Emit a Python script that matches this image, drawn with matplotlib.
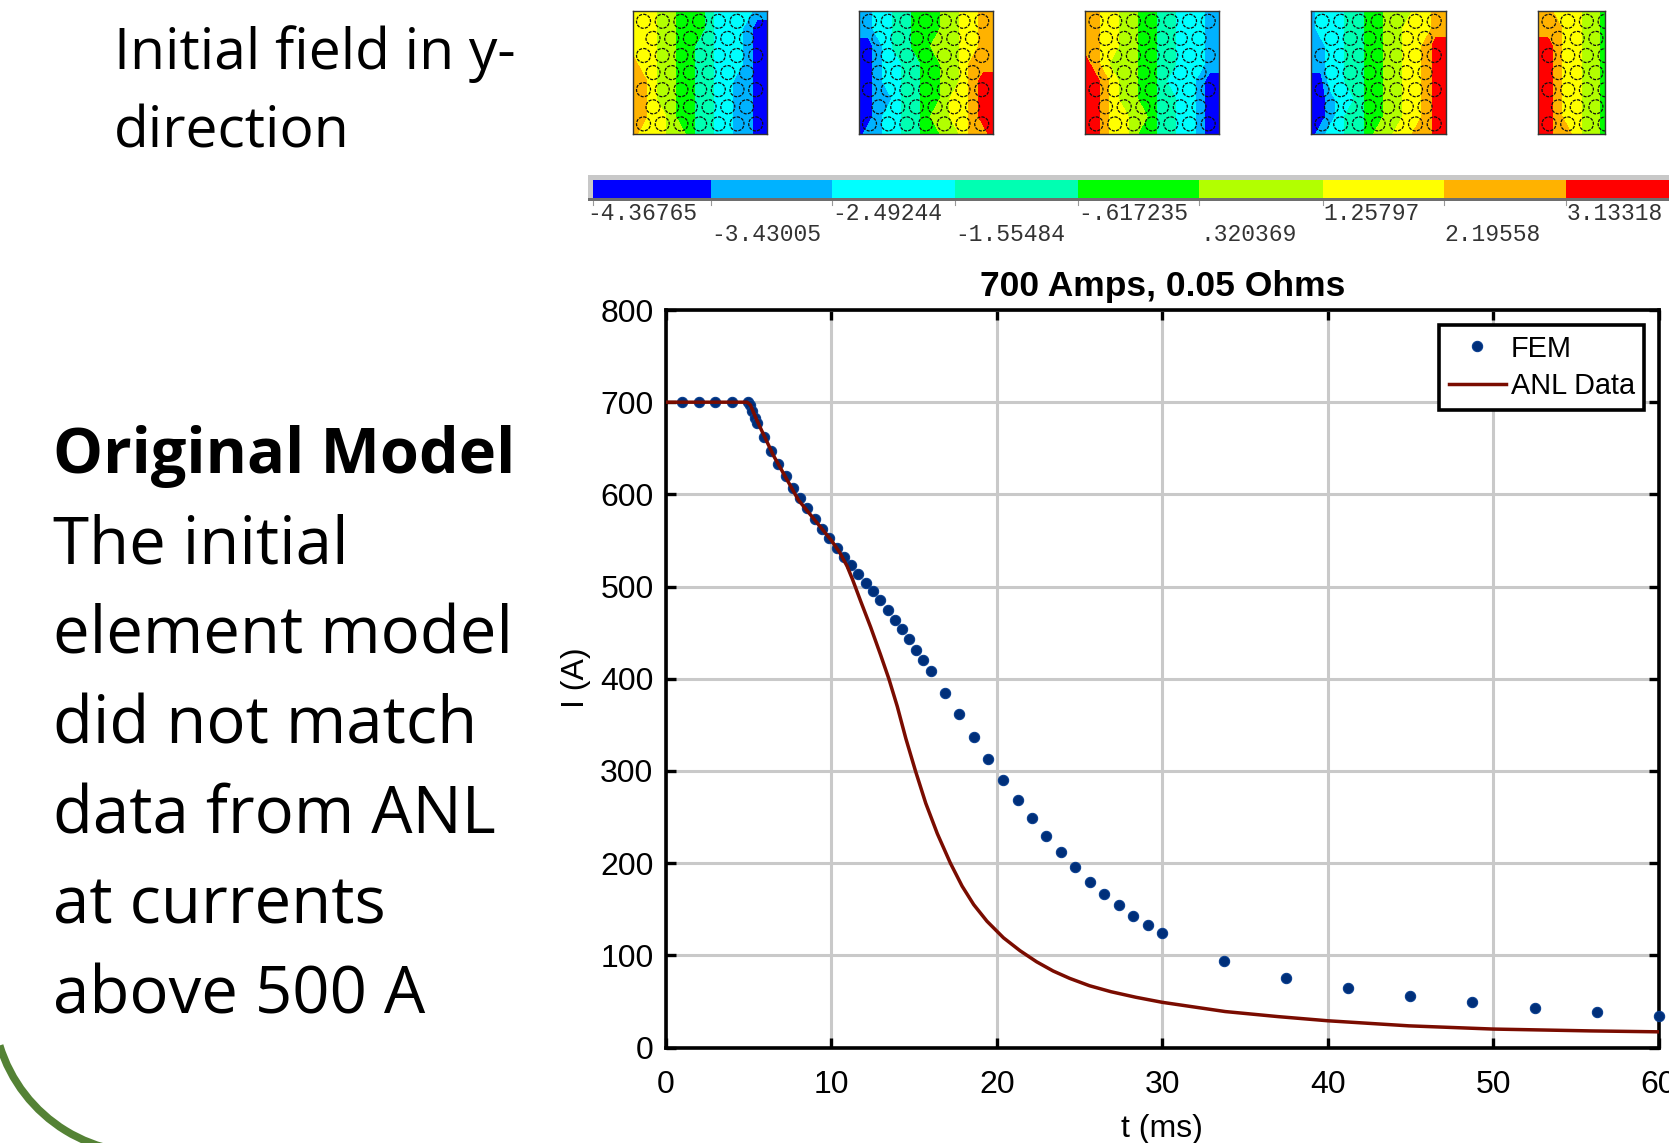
import numpy as np
import matplotlib
matplotlib.use('Agg')
import matplotlib.pyplot as plt
from matplotlib.colors import ListedColormap, BoundaryNorm
from matplotlib.patches import Arc, Circle

W, H = 1669, 1143

# ---- data --------------------------------------------------------------------
fem_t = [0.97, 1.98, 2.96, 3.97, 4.94, 5.05, 5.2, 5.35, 5.5, 5.9, 6.35, 6.79, 7.24,
         7.68, 8.13, 8.55, 8.99, 9.44, 9.88, 10.32, 10.77, 11.19, 11.63, 12.08, 12.5,
         12.94, 13.39, 13.83, 14.25, 14.7, 15.12, 15.56, 16.0, 16.88, 17.73, 18.61,
         19.47, 20.36, 21.25, 22.1, 22.96, 23.85, 24.74, 25.63, 26.5, 27.37, 28.25,
         29.11, 30.0, 33.74, 37.5, 41.25, 45.0, 48.75, 52.5, 56.25, 60.0]
fem_i = [700, 700, 700, 700, 700, 697, 690, 683, 677, 662, 647, 633, 620,
         607, 596, 585, 573.5, 562.7, 552.3, 542, 532.4, 523, 513.7, 504, 495,
         485, 475, 464, 454, 443, 431.5, 420, 408, 385, 361.6, 337.3,
         313.4, 290.6, 268.8, 248.6, 229.7, 211.6, 195.3, 180, 166.7, 154.3, 142.7,
         132.6, 123.9, 94.2, 75.7, 64.5, 56.2, 49.3, 43.1, 38, 33.7]

anl_t = [0, 4.9, 5.1, 5.5, 6.5, 8, 9, 10, 10.5, 10.95, 11.27, 11.77, 12.37, 12.97,
         13.47, 13.98, 14.5, 15.08, 15.7, 16.4, 17.19, 17.9, 18.6, 19.4, 20.4, 21.4,
         22.4, 23.4, 24.4, 25.6, 26.9, 28.4, 30, 33.8, 37, 40, 44.9, 50, 55.9, 60]
anl_i = [700, 700, 697, 680, 642, 594, 572, 550, 537, 522, 508, 484, 456, 426,
         400, 370, 335, 300, 265, 232, 200, 175, 155, 137, 119, 105,
         93, 83, 75, 67, 60.5, 54.5, 49, 39, 33.5, 29, 23.5, 20, 18, 17]

x_ticks = [0, 10, 20, 30, 40, 50, 60]
y_ticks = [0, 100, 200, 300, 400, 500, 600, 700, 800]

bar_colors = ['#0000ff', '#00b2ff', '#00ffff', '#00ffb2', '#00ff00',
              '#b2ff00', '#ffff00', '#ffb200', '#ff0000']
bar_labels = ['-4.36765', '-3.43005', '-2.49244', '-1.55484', '-.617235',
              '.320369', '1.25797', '2.19558', '3.13318']

# contour band index (0 = blue ... 8 = red), rows run top to bottom
field_1 = ['666554443222211', '666554443222100', '666554433222100', '766554433222100',
           '776554433221100', '776554433221100', '776654433221100', '766655433221100']
field_2 = ['112233444556677', '112233444556677', '001233445556677', '001223344556777',
           '001223344556788', '001123344566788', '001223345566788', '011223344556778']
field_3 = ['776655443322211', '776655443322211', '776655443322211', '876555443322211',
           '887655443222100', '887655443322100', '887665543322100', '887665443322100']
field_4 = ['122233445556677', '122233445566677', '112233445566788', '112233445566788',
           '002233445566788', '001223445566788', '001233445566788', '012233455667788']
field_5 = ['77666554', '77766554', '88766554', '88766554',
           '88766554', '88766554', '88766554', '88776554']

# ---- layout (pixels of the 1669x1143 picture) ---------------------------------
PANELS = [(field_1, 632.5, 766.5), (field_2, 858.5, 993), (field_3, 1085, 1219),
          (field_4, 1311, 1446), (field_5, 1538, 1605)]
BAR_EDGES = [592.5, 710.7, 832, 955, 1077.5, 1199.4, 1322.5, 1444, 1566, 1669]
AX_L, AX_R, AX_T, AX_B = 666, 1658.6, 310, 1047.5


def px_axes(fig, x0, y0, x1, y1, **kw):
    return fig.add_axes([x0 / W, 1 - y1 / H, (x1 - x0) / W, (y1 - y0) / H], **kw)


def draw_panel(fig, rows, x0, x1, y0=11, y1=134):
    ax = px_axes(fig, x0, y0, x1, y1)
    w, h = x1 - x0, y1 - y0
    z = np.array([[int(c) for c in r] for r in rows], dtype=float)
    xs = np.linspace(0, w, z.shape[1])
    ys = np.linspace(0, h, z.shape[0])
    levels = np.arange(-0.5, 9.5)
    ax.contourf(xs, ys, z, levels=levels, colors=bar_colors)
    # round strands, 7 and 6 per row, same pitch on every panel
    for r in range(7):
        n = 7 if r % 2 == 0 else 6
        start = 11 if r % 2 == 0 else 20.5
        for i in range(n):
            ax.add_patch(Circle((start + i * 18.7, 10.3 + r * 17.1), 7, fill=False,
                                ec='#111111', lw=0.9, ls=(0, (2.5, 1))))
    ax.set_xlim(0, w)
    ax.set_ylim(h, 0)
    ax.set_xticks([])
    ax.set_yticks([])
    for s in ax.spines.values():
        s.set_linewidth(1.0)
        s.set_color('#333333')


fig = plt.figure(figsize=(W / 100, H / 100), dpi=100, facecolor='white')

# overlay in pixel coordinates for the slide text and decoration
bg = fig.add_axes([0, 0, 1, 1])
bg.set_xlim(0, W)
bg.set_ylim(H, 0)
bg.axis('off')

SLIDE_FONT = ['Open Sans', 'DejaVu Sans']
bg.text(114, 69, 'Initial field in y-', fontsize=41, family=SLIDE_FONT, va='baseline')
bg.text(114, 147, 'direction', fontsize=41, family=SLIDE_FONT, va='baseline')
bg.text(53, 473, 'Original Model', fontsize=45.4, family=SLIDE_FONT, weight='bold', va='baseline')
body_lines = ['The initial', 'element model', 'did not match', 'data from ANL',
              'at currents', 'above 500 A']
for line, y in zip(body_lines, [564, 654, 744, 834, 924, 1013]):
    bg.text(53, y, line, fontsize=47, family=SLIDE_FONT, va='baseline')

# green arc of the slide template, bottom left
arc_ax = fig.add_axes([0, 0, 1, 1])
arc_ax.set_xlim(0, W)
arc_ax.set_ylim(0, H)
arc_ax.axis('off')
arc_ax.add_patch(Arc((145, 142), 304, 304, theta1=197, theta2=280, color='#548235', lw=5.5))

for rows, x0, x1 in PANELS:
    draw_panel(fig, rows, x0, x1)

# colour bar
cb = px_axes(fig, 588, 175, W + 5, 201)
cb.set_xlim(588, W + 5)
cb.set_ylim(201, 175)
cb.axhspan(175, 180, color='#c8c8c8', lw=0)
cb.axvspan(588, 592.5, color='#c8c8c8', lw=0)
cb.axhspan(198, 201, color='#6e6e6e', lw=0)
cmap = ListedColormap(bar_colors)
norm = BoundaryNorm(np.arange(-0.5, 9.5), 9)
cb.pcolormesh(BAR_EDGES, [180, 198], [np.arange(9)], cmap=cmap, norm=norm)
cb.axis('off')
for i, lab in enumerate(bar_labels):
    y = 220.5 if i % 2 == 0 else 241
    x = 587.5 if i == 0 else BAR_EDGES[i] + 0.5
    bg.plot([max(BAR_EDGES[i], 588)] * 2, [201, 205], color='#999999', lw=0.8)
    bg.text(x, y, lab, family='Liberation Mono', fontsize=16.6,
            color='#333333', va='baseline')

# current decay chart
ax = px_axes(fig, AX_L, AX_T, AX_R, AX_B)
ax.set_xlim(0, 60)
ax.set_ylim(0, 800)
ax.set_xticks(x_ticks)
ax.set_yticks(y_ticks)
ax.grid(True, color='#c9c9c9', lw=2.2)
ax.set_axisbelow(True)
ax.tick_params(axis='both', direction='in', length=7.5, width=2.4, top=True, right=True,
               labelsize=23, labelfontfamily='Liberation Sans')
ax.tick_params(axis='x', pad=16)
ax.tick_params(axis='y', pad=9)
for s in ax.spines.values():
    s.set_linewidth(2.6)
ax.plot(fem_t, fem_i, 'o', color='#002f7a', mec='#0a3f90', mew=0.8, ms=7.4,
        label='FEM', clip_on=False, zorder=3)
ax.plot(anl_t, anl_i, '-', color='#7a0c00', lw=2.5, label='ANL Data', zorder=4)
ax.set_title('700 Amps, 0.05 Ohms', family='Liberation Sans', weight='bold', fontsize=25.5, pad=10)
ax.set_xlabel('t (ms)', family='Liberation Sans', fontsize=23, labelpad=10)
bg.text(576, 678, 'I (A)', family='Liberation Sans', fontsize=23, rotation=90,
        ha='center', va='center')
leg = ax.legend(loc='upper left', bbox_to_anchor=((1439 - AX_L) / (AX_R - AX_L), 1 - (325 - AX_T) / (AX_B - AX_T)),
                borderaxespad=0, fancybox=False, framealpha=1, edgecolor='black',
                prop={'family': 'Liberation Sans', 'size': 20.8}, handlelength=2.0,
                handletextpad=0.15, borderpad=0.33, labelspacing=0.33)
leg.get_frame().set_linewidth(2.6)

fig.savefig('out.png', dpi=100)
